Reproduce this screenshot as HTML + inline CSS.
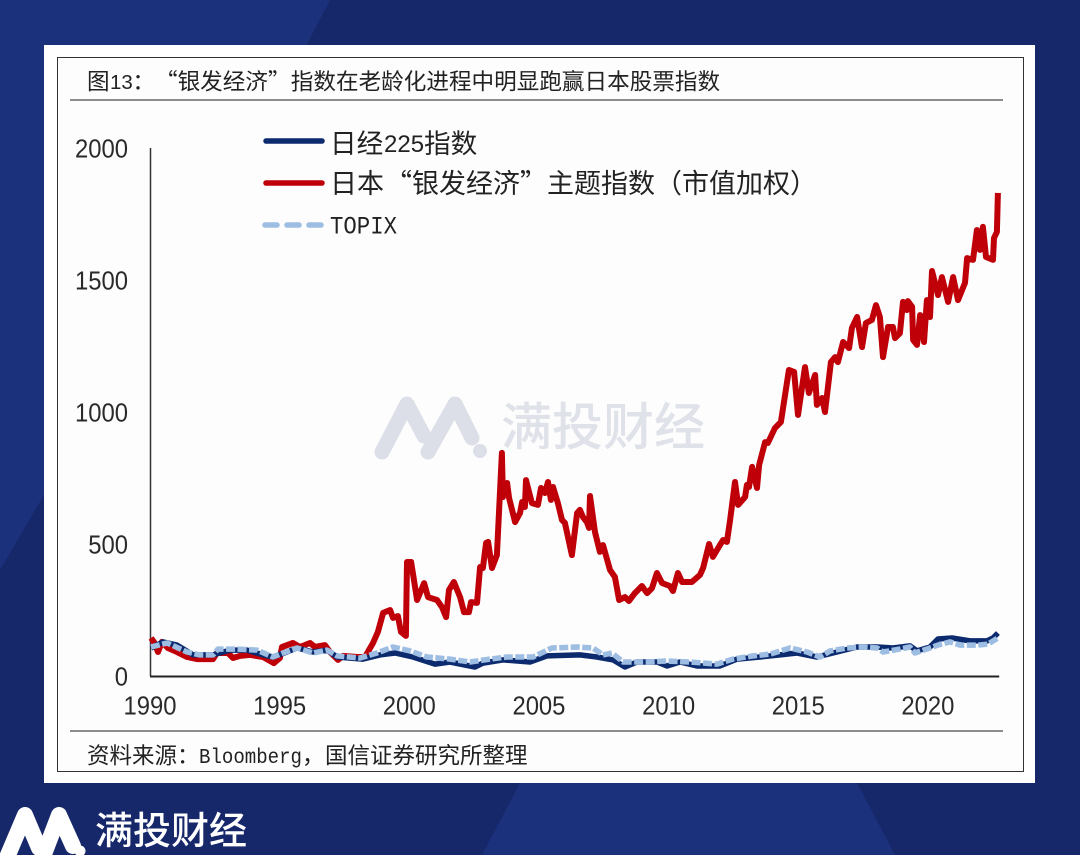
<!DOCTYPE html>
<html lang="zh-CN">
<head>
<meta charset="utf-8">
<title>图13 银发经济指数</title>
<style>
html,body{margin:0;padding:0;width:1080px;height:855px;overflow:hidden;background:#16276a}
svg{display:block;position:absolute;left:0;top:0}
text{text-spacing-trim:space-all;font-kerning:none}
.cjk{font-family:"Noto Sans CJK SC","Liberation Sans",sans-serif}
.lat{font-family:"Liberation Mono","Noto Sans CJK SC",monospace}
.num{font-family:"Liberation Sans","Noto Sans CJK SC",sans-serif}
</style>
</head>
<body>
<svg id="page" width="1080" height="855" viewBox="0 0 1080 855" xmlns="http://www.w3.org/2000/svg">
  <rect x="0" y="0" width="1080" height="855" fill="#16276a"/>
  <polygon points="0,0 330,0 306,46 44,46 44,495 0,570" fill="#1c317c"/>
  <polygon points="520,783 857,783 895,855 482,855" fill="#1c317c"/>

  <rect x="44" y="45" width="991" height="738" fill="#ffffff"/>
  <rect x="57.5" y="57.5" width="966" height="714" fill="#fdfdfd" stroke="#333" stroke-width="1"/>

  <g fill="#222">
    <text class="cjk" x="87" y="89.5" font-size="22.6">图</text>
    <text class="num" x="110" y="89" font-size="20.5">13</text>
    <text class="cjk" x="132.4" y="89.5" font-size="22.6">：</text>
    <text class="cjk" x="155" y="89.5" font-size="22.6">“</text>
    <text class="cjk" x="177.6" y="89.5" font-size="22.6">银发经济</text>
    <text class="cjk" x="268" y="89.5" font-size="22.6">”</text>
    <text class="cjk" x="290.8" y="89.5" font-size="22.6">指数在老龄化进程中明显跑赢日本股票指数</text>
  </g>
  <line x1="70" y1="100" x2="1003" y2="100" stroke="#666" stroke-width="1.5"/>

  <g>
    <polyline points="382,452 407,404 424,436" fill="none" stroke="#dcdee8" stroke-width="15" stroke-linecap="round" stroke-linejoin="round"/>
    <polyline points="428,452 455,404 472,438" fill="none" stroke="#dcdee8" stroke-width="15" stroke-linecap="round" stroke-linejoin="round"/>
    <circle cx="480" cy="451" r="7" fill="#dcdee8"/>
    <text class="cjk" x="501" y="445" font-size="51" font-weight="500" fill="#e0e2ea">满投财经</text>
  </g>

  <g id="plot"></g>

  <g>
    <g>
      <line x1="266" y1="141" x2="322" y2="141" stroke="#0c2a6e" stroke-width="5.5" stroke-linecap="round"/>
      <text class="cjk" x="330" y="153" font-size="26.6" fill="#222">日经</text>
      <text class="num" x="384" y="152" font-size="24" fill="#222">225</text>
      <text class="cjk" x="424" y="153" font-size="26.6" fill="#222">指数</text>
    </g>
    <g>
      <line x1="266" y1="183" x2="322" y2="183" stroke="#c00008" stroke-width="5.5" stroke-linecap="round"/>
      <text class="cjk" x="330" y="193" font-size="27" fill="#222">日本</text>
      <text class="cjk" x="385" y="193" font-size="27" fill="#222">“</text>
      <text class="cjk" x="412" y="193" font-size="27" fill="#222">银发经济</text>
      <text class="cjk" x="520" y="193" font-size="27" fill="#222">”</text>
      <text class="cjk" x="547" y="193" font-size="27" fill="#222">主题指数</text>
      <text class="cjk" x="655" y="193" font-size="27" fill="#222">（</text>
      <text class="cjk" x="682" y="193" font-size="27" fill="#222">市值加权</text>
      <text class="cjk" x="790" y="193" font-size="27" fill="#222">）</text>
    </g>
    <g>
      <line x1="265" y1="225" x2="322" y2="225" stroke="#9dbde3" stroke-width="5.5" stroke-linecap="round" stroke-dasharray="12 10"/>
      <text class="lat" x="330" y="233.5" font-size="25" fill="#222" textLength="67" lengthAdjust="spacingAndGlyphs">TOPIX</text>
    </g>
  </g>

  <line x1="70" y1="731" x2="1003" y2="731" stroke="#666" stroke-width="1.5"/>
  <g fill="#222">
    <text class="cjk" x="87" y="763.5" font-size="22.5">资料来源：</text>
    <text class="lat" x="199" y="763" font-size="21" textLength="103" lengthAdjust="spacingAndGlyphs">Bloomberg</text>
    <text class="cjk" x="302" y="763.5" font-size="22.5">，</text>
    <text class="cjk" x="325" y="763.5" font-size="22.5">国信证券研究所整理</text>
  </g>

  <g>
    <polyline points="5,862 25,815 39,848" fill="none" stroke="#ffffff" stroke-width="16" stroke-linecap="round" stroke-linejoin="round"/>
    <polyline points="41,862 59,815 73,846" fill="none" stroke="#ffffff" stroke-width="16" stroke-linecap="round" stroke-linejoin="round"/>
    <circle cx="80" cy="851" r="5.5" fill="#ffffff"/>
    <text class="cjk" x="95" y="844" font-size="38" font-weight="500" fill="#ffffff">满投财经</text>
  </g>
</svg>

<script>
var xTickLabels = [1990, 1995, 2000, 2005, 2010, 2015, 2020];
var yTickLabels = [0, 500, 1000, 1500, 2000];

var silverYears = [1990.04,1990.15,1990.31,1990.46,1990.69,1991.04,1991.43,1991.81,1992.43,1992.58,1993.01,1993.20,1993.47,1993.86,1994.36,1994.78,1995.01,1995.09,1995.51,1995.78,1996.17,1996.36,1996.75,1996.94,1997.25,1997.44,1997.98,1998.29,1998.60,1998.79,1998.99,1999.26,1999.37,1999.56,1999.68,1999.87,1999.91,2000.07,2000.30,2000.57,2000.72,2001.07,2001.26,2001.42,2001.53,2001.72,2001.96,2002.11,2002.30,2002.38,2002.61,2002.73,2002.84,2002.96,2003.04,2003.19,2003.38,2003.57,2003.61,2003.77,2003.85,2004.08,2004.27,2004.35,2004.46,2004.50,2004.73,2004.96,2005.08,2005.23,2005.35,2005.46,2005.54,2005.73,2005.89,2006.00,2006.27,2006.47,2006.58,2006.70,2006.85,2006.93,2006.97,2007.16,2007.35,2007.47,2007.74,2007.93,2008.09,2008.32,2008.47,2008.70,2008.97,2009.17,2009.36,2009.55,2009.75,2010.05,2010.17,2010.36,2010.52,2010.90,2011.21,2011.33,2011.56,2011.71,2011.98,2012.10,2012.25,2012.37,2012.56,2012.68,2012.95,2013.02,2013.10,2013.22,2013.41,2013.49,2013.72,2013.83,2014.10,2014.33,2014.64,2014.84,2014.99,2015.26,2015.41,2015.65,2015.72,2015.92,2016.03,2016.26,2016.42,2016.53,2016.73,2016.96,2017.07,2017.27,2017.46,2017.61,2017.84,2018.00,2018.15,2018.27,2018.46,2018.65,2018.73,2018.92,2019.04,2019.19,2019.23,2019.39,2019.43,2019.58,2019.70,2019.85,2019.96,2020.08,2020.16,2020.39,2020.54,2020.78,2020.97,2021.16,2021.43,2021.51,2021.74,2021.89,2022.01,2022.12,2022.24,2022.51,2022.55,2022.66,2022.70];
var silverValues = [144,129,91,129,106,91,72,64,64,87,87,68,76,80,72,49,68,110,125,110,125,110,117,91,61,76,72,72,125,167,239,250,220,227,167,152,432,432,288,352,299,288,261,223,326,356,299,242,242,280,277,413,409,504,508,409,458,845,678,731,674,583,617,659,640,742,655,648,712,693,735,667,716,655,591,580,458,617,629,602,583,561,682,545,470,496,402,375,288,299,284,314,341,314,333,390,352,341,322,390,356,356,383,409,500,451,496,515,508,591,735,648,678,724,716,792,712,799,886,883,939,962,1159,1152,989,1170,1072,1140,1027,1053,1000,1189,1208,1189,1265,1242,1318,1360,1246,1337,1349,1405,1360,1208,1322,1322,1280,1299,1417,1386,1420,1398,1273,1254,1367,1265,1424,1360,1534,1443,1511,1417,1511,1424,1489,1583,1576,1689,1614,1701,1587,1576,1659,1682,1830];

var nikkeiYears = [1990.04,1990.5,1991.04,1991.66,1992.43,1993.09,1993.74,1994.36,1994.74,1995.28,1995.67,1996.29,1996.83,1997.21,1998.21,1998.87,1999.45,2000.14,2000.99,2001.57,2002.53,2002.84,2003.61,2004.65,2005.31,2006.58,2007.24,2007.86,2008.32,2008.78,2009.55,2009.94,2010.44,2011.10,2011.98,2012.64,2013.52,2014.30,2014.95,2015.72,2016.49,2017.27,2018.04,2018.65,2019.31,2019.58,2020.08,2020.39,2020.93,2021.62,2022.28,2022.51,2022.70];
var nikkeiValues = [106,129,117,80,80,98,98,80,72,91,106,91,98,72,64,80,87,72,45,53,34,49,61,53,76,80,72,61,34,53,53,38,53,38,38,64,72,80,87,72,91,110,110,106,114,95,110,140,144,133,133,144,163];

var topixYears = [1990.04,1990.66,1991.43,1991.93,1992.43,1992.62,1993.09,1993.36,1994.13,1994.74,1995.13,1995.67,1996.29,1996.83,1997.21,1998.10,1998.75,1999.37,2000.03,2000.68,2001.57,2002.34,2003.11,2003.77,2004.77,2005.50,2006.47,2007.08,2007.47,2007.82,2008.24,2009.17,2009.94,2010.83,2011.87,2012.48,2013.26,2013.91,2014.68,2015.34,2015.84,2016.23,2016.88,2017.50,2018.04,2018.27,2018.92,2019.31,2019.50,2020.08,2020.39,2020.85,2021.24,2021.93,2022.32,2022.70];
var topixValues = [110,125,91,80,80,102,102,102,98,72,87,106,87,98,76,68,87,110,95,72,64,53,64,72,72,106,110,106,80,87,53,53,57,53,45,64,76,83,106,91,72,95,106,110,106,91,102,110,87,106,117,129,117,117,121,144];

var SVG_NS = 'http://www.w3.org/2000/svg';
var plot = document.getElementById('plot');

function xScale(year) {
  return 150 + (year - 1990) * 25.93;
}
function yScale(value) {
  return 676 - value * 0.264;
}
function linePath(years, values) {
  var d = '';
  for (var i = 0; i < years.length; i++) {
    d += (i === 0 ? 'M' : 'L') + xScale(years[i]).toFixed(1) + ' ' + yScale(values[i]).toFixed(1);
  }
  return d;
}
function makeSeries(years, values, color, width, dash) {
  var p = document.createElementNS(SVG_NS, 'path');
  p.setAttribute('d', linePath(years, values));
  p.setAttribute('fill', 'none');
  p.setAttribute('stroke', color);
  p.setAttribute('stroke-width', width);
  p.setAttribute('stroke-linejoin', 'round');
  if (dash) {
    p.setAttribute('stroke-dasharray', dash);
  }
  plot.appendChild(p);
  return p;
}

var axisY = document.createElementNS(SVG_NS, 'line');


axisY.setAttribute('x1', xScale(1990) + 0.5);
axisY.setAttribute('x2', xScale(1990) + 0.5);
axisY.setAttribute('y1', yScale(2000));
axisY.setAttribute('y2', yScale(0));
axisY.setAttribute('stroke', '#333');
axisY.setAttribute('stroke-width', '1.5');
plot.appendChild(axisY);

var axisX = document.createElementNS(SVG_NS, 'line');


axisX.setAttribute('x1', xScale(1990));
axisX.setAttribute('x2', xScale(2022.75));
axisX.setAttribute('y1', yScale(0) + 0.5);
axisX.setAttribute('y2', yScale(0) + 0.5);
axisX.setAttribute('stroke', '#222');
axisX.setAttribute('stroke-width', '2');
plot.appendChild(axisX);

var silverLine = makeSeries(silverYears, silverValues, '#c00008', 6, null);



var nikkeiLine = makeSeries(nikkeiYears, nikkeiValues, '#0c2a6e', 5.5, null);



var topixLine = makeSeries(topixYears, topixValues, '#9dbde3', 5.5, '9 2.5');



xTickLabels.forEach(function (year) {
  var t = document.createElementNS(SVG_NS, 'text');
  
  
  t.setAttribute('class', 'num');
  t.setAttribute('x', xScale(year) - 26.5);
  t.setAttribute('y', 714.5);
  t.setAttribute('font-size', '26');
  t.setAttribute('textLength', '53');
  t.setAttribute('lengthAdjust', 'spacingAndGlyphs');
  t.setAttribute('fill', '#2a2a2a');
  t.textContent = String(year);
  plot.appendChild(t);
});

yTickLabels.forEach(function (value) {
  var label = String(value);
  var w = label.length * 13.25;
  var t = document.createElementNS(SVG_NS, 'text');
  
  
  t.setAttribute('class', 'num');
  t.setAttribute('x', 128 - w);
  t.setAttribute('y', yScale(value) + 9.5);
  t.setAttribute('font-size', '26');
  t.setAttribute('textLength', w);
  t.setAttribute('lengthAdjust', 'spacingAndGlyphs');
  t.setAttribute('fill', '#2a2a2a');
  t.textContent = label;
  plot.appendChild(t);
});
</script>
</body>
</html>
